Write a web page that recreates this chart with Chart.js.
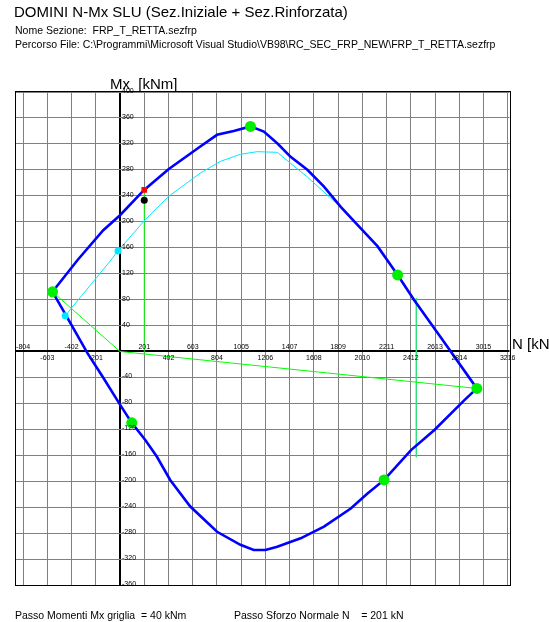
<!DOCTYPE html>
<html>
<head>
<meta charset="utf-8">
<script src="https://cdn.jsdelivr.net/npm/chart.js@4"></script>
<style>
  html, body { margin: 0; padding: 0; background: #fff; }
  #wrap { position: relative; width: 549px; height: 622px; overflow: hidden; }
  #chart { position: absolute; left: 0; top: 0; }
  .txt { position: absolute; white-space: pre; font-family: Arial, "Liberation Sans", sans-serif; line-height: 1; color: #000; }
</style>
</head>
<body>
<div id="wrap">
  <canvas id="chart" width="549" height="622"></canvas>
  <div class="txt" style="left:14px; top:4px; font-size:15px;">DOMINI N-Mx SLU (Sez.Iniziale + Sez.Rinforzata)</div>
  <div class="txt" style="left:15px; top:25.3px; font-size:10.5px;">Nome Sezione:  FRP_T_RETTA.sezfrp</div>
  <div class="txt" style="left:15px; top:39.3px; font-size:10.5px;">Percorso File: C:\Programmi\Microsoft Visual Studio\VB98\RC_SEC_FRP_NEW\FRP_T_RETTA.sezfrp</div>
  <div class="txt" style="left:110px; top:76px; font-size:15px;">Mx  [kNm]</div>
  <div class="txt" style="left:512px; top:335.5px; font-size:15px;">N [kN]</div>
  <div class="txt" style="left:15px; top:609.8px; font-size:10.5px;">Passo Momenti Mx griglia  = 40 kNm</div>
  <div class="txt" style="left:234px; top:609.8px; font-size:10.5px;">Passo Sforzo Normale N    = 201 kN</div>
</div>
<script>
// --- data (N in kN, Mx in kNm) ---

// reinforced section domain (blue)
const blueN  = [-560, -352, -139, 0, 200, 402, 666, 805, 943, 1082, 1193, 1304, 1415, 1554, 1692, 1831, 1970, 2137, 2303, 2441, 2663, 2960,
                2857, 2608, 2414, 2191, 2053, 1914, 1692, 1498, 1304, 1207, 1109, 999, 805, 583, 416, 305, 208, 97, 0, -144, -269, -449, -560];
const blueMx = [92, 141, 187, 210, 249, 281, 316, 334, 340, 347, 339, 321, 300, 280, 254, 223, 195, 162, 118, 79, 21, -57,
                -75, -121, -152, -198, -219, -242, -270, -288, -301, -306, -306, -298, -278, -239, -198, -162, -136, -110, -82, -39, -3, 56, 92];

// initial section domain (cyan)
const cyanN  = [-455, -75, -17, 208, 402, 666, 832, 999, 1138, 1304, 1415, 1554, 1720, 1887, 2025, 2137, 2303, 2663, 2960,
                2857, 2608, 2414, 2191, 2053, 1914, 1692, 1498, 1304, 1207, 1109, 999, 805, 583, 416, 305, 208, 97, 0, -144, -269, -455];
const cyanMx = [55, 141, 155, 203, 239, 275, 293, 304, 308, 307, 290, 269, 241, 213, 185, 162, 118, 21, -57,
                -75, -121, -152, -198, -219, -242, -270, -288, -301, -306, -306, -298, -278, -239, -198, -162, -136, -110, -82, -39, -3, 55];

// marked points
const greenPtN  = [-560, 1082, 2303, 2960, 2191, 97];
const greenPtMx = [92, 347, 118, -57, -198, -110];
const cyanPtN   = [-455, -17];
const cyanPtMx  = [55, 155];
const redPtN    = [201];
const redPtMx   = [249];
const blackPtN  = [201];
const blackPtMx = [233];

// thin guide lines
const guideN   = [-560, 0, 2960];
const guideMx  = [92, 0, -57];
const stemN    = [201, 201];
const stemMx   = [-4, 244];
const limitN   = [2458, 2458];
const limitMx  = [82, -163];

// grid / tick labels
const nTicks  = [-804, -603, -402, -201, 0, 201, 402, 603, 804, 1005, 1206, 1407, 1608, 1809, 2010, 2211, 2412, 2613, 2814, 3015, 3216];
const mxTicks = [-360, -320, -280, -240, -200, -160, -120, -80, -40, 0, 40, 80, 120, 160, 200, 240, 280, 320, 360, 400];
const nLabelsAbove = ['-804', '-402', '201', '603', '1005', '1407', '1809', '2211', '2613', '3015'];
const nLabelsBelow = ['-603', '-201', '402', '804', '1206', '1608', '2010', '2412', '2814', '3216'];
const mxLabels = ['400', '360', '320', '280', '240', '200', '160', '120', '80', '40',
                  '-40', '-80', '-120', '-160', '-200', '-240', '-280', '-320', '-360'];

function pts(xs, ys) {
    return xs.map((x, i) => ({ x: x, y: ys[i] }));
}

function lineSet(xs, ys, color, width) {
    return {
        data: pts(xs, ys),
        showLine: true,
        borderColor: color,
        borderWidth: width,
        pointRadius: 0,
        tension: 0,
        fill: false
    };
}

function pointSet(xs, ys, color, radius, style) {
    return {
        data: pts(xs, ys),
        showLine: false,
        pointStyle: style || 'circle',
        pointRadius: radius,
        backgroundColor: color,
        borderColor: color,
        borderWidth: 0
    };
}

// tick labels along the axes + frame
const axisLabels = {
    id: 'axisLabels',
    afterDraw(chart) {
        const ctx = chart.ctx;
        const xs = chart.scales.x, ys = chart.scales.y;
        const area = chart.chartArea;
        const x0 = xs.getPixelForValue(0), y0 = ys.getPixelForValue(0);
        ctx.save();
        ctx.fillStyle = '#000';
        ctx.font = '7px Arial, "Liberation Sans", sans-serif';
        ctx.textAlign = 'center';
        ctx.textBaseline = 'alphabetic';
        nLabelsAbove.forEach(t => ctx.fillText(t, xs.getPixelForValue(parseFloat(t)), y0 - 2));
        ctx.textBaseline = 'top';
        nLabelsBelow.forEach(t => ctx.fillText(t, xs.getPixelForValue(parseFloat(t)), y0 + 3));
        ctx.textAlign = 'left';
        ctx.textBaseline = 'alphabetic';
        mxLabels.forEach(t => ctx.fillText(t, x0 + 2, ys.getPixelForValue(parseFloat(t)) + 1));
        ctx.strokeStyle = '#000';
        ctx.lineWidth = 1;
        ctx.strokeRect(Math.round(area.left) - 0.5, Math.round(area.top) - 0.5,
                       Math.round(area.right - area.left) + 1, Math.round(area.bottom - area.top) + 1);
        ctx.restore();
    }
};

const gridCol = ctx => (ctx.tick && ctx.tick.value === 0) ? '#000' : '#808080';
const gridW = ctx => (ctx.tick && ctx.tick.value === 0) ? 2 : 1;

new Chart(document.getElementById('chart'), {
    type: 'scatter',
    data: {
        datasets: [
            pointSet(greenPtN, greenPtMx, '#00ee00', 5.5),
            pointSet(cyanPtN, cyanPtMx, '#00e8ff', 3.5),
            pointSet(redPtN, redPtMx, '#ff0000', 4, 'rect'),
            pointSet(blackPtN, blackPtMx, '#000000', 3.5),
            lineSet(blueN, blueMx, '#0000ff', 2.6),
            lineSet(cyanN, cyanMx, '#00e8ff', 1),
            lineSet(guideN, guideMx, '#00ff00', 1),
            lineSet(stemN, stemMx, '#00ff00', 1),
            lineSet(limitN, limitMx, '#33e07a', 1)
        ]
    },
    options: {
        responsive: false,
        animation: false,
        devicePixelRatio: 1,
        layout: { padding: { left: 16, right: 39.5, top: 92, bottom: 37 } },
        plugins: { legend: { display: false }, tooltip: { enabled: false } },
        scales: {
            x: {
                type: 'linear', min: -863, max: 3231,
                afterBuildTicks: axis => { axis.ticks = nTicks.map(v => ({ value: v })); },
                ticks: { display: false },
                grid: { drawTicks: false, color: gridCol, lineWidth: gridW },
                border: { display: false }
            },
            y: {
                type: 'linear', min: -360, max: 400,
                afterBuildTicks: axis => { axis.ticks = mxTicks.map(v => ({ value: v })); },
                ticks: { display: false },
                grid: { drawTicks: false, color: gridCol, lineWidth: gridW },
                border: { display: false }
            }
        }
    },
    plugins: [axisLabels]
});
</script>
</body>
</html>
